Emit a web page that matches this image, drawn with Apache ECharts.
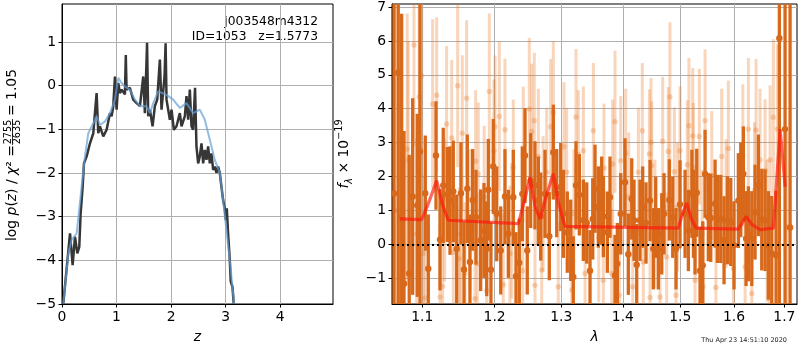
<!DOCTYPE html>
<html>
<head>
<meta charset="utf-8">
<script src="https://cdn.jsdelivr.net/npm/echarts@6/dist/echarts.min.js"></script>
<style>
html, body { margin: 0; padding: 0; background: #fff; }
#chart { width: 800px; height: 350px; }
</style>
</head>
<body>
<div id="chart"></div>
<script>
// p(z) panel
const pzZ = [0.024, 0.147, 0.177, 0.195, 0.238, 0.281, 0.317, 0.342, 0.379, 0.403, 0.452, 0.513, 0.574, 0.604, 0.635, 0.665, 0.696, 0.757, 0.818, 0.879, 0.910, 0.940, 0.971, 1.001, 1.032, 1.062, 1.093, 1.154, 1.17, 1.184, 1.245, 1.306, 1.368, 1.429, 1.490, 1.520, 1.56, 1.581, 1.612, 1.661, 1.703, 1.746, 1.795, 1.825, 1.88, 1.90, 1.917, 1.978, 2.009, 2.051, 2.100, 2.161, 2.192, 2.253, 2.283, 2.314, 2.344, 2.375, 2.405, 2.44, 2.466, 2.497, 2.527, 2.558, 2.589, 2.619, 2.650, 2.680, 2.711, 2.741, 2.772, 2.802, 2.833, 2.863, 2.894, 2.924, 2.955, 2.985, 3.004, 3.022, 3.046, 3.077, 3.095, 3.126, 3.150];
const pzLog = [-4.99, -3.38, -3.42, -4.11, -3.46, -3.84, -3.69, -2.92, -2.31, -1.78, -1.62, -1.32, -1.09, -0.63, -0.17, -1.09, -0.93, -1.16, -1.01, -0.63, -0.70, -0.47, 0.21, -0.55, 0.06, -0.17, -0.09, -0.2, 0.70, -0.09, -0.05, -0.32, -0.40, -0.47, 0.21, -0.63, 0.98, -0.70, -0.55, -0.93, -0.47, -0.32, 0.60, -0.55, 0.2, 0.97, -0.32, -0.78, -0.55, -1.01, -0.93, -0.63, -0.93, -0.70, -0.24, -0.78, -0.09, -0.93, -1.01, -0.05, -1.39, -1.78, -1.62, -1.32, -1.78, -1.47, -1.70, -1.39, -1.78, -1.55, -1.93, -1.85, -2.00, -1.85, -2.00, -2.31, -2.62, -2.81, -3.08, -2.81, -3.38, -3.99, -4.49, -4.61, -4.99];
const priorZ = [0.024, 0.116, 0.177, 0.269, 0.360, 0.421, 0.482, 0.574, 0.635, 0.696, 0.788, 0.879, 0.971, 1.032, 1.093, 1.154, 1.245, 1.337, 1.429, 1.551, 1.612, 1.673, 1.764, 1.917, 2.039, 2.161, 2.283, 2.405, 2.527, 2.619, 2.711, 2.802, 2.894, 2.955, 3.077, 3.156];
const priorLog = [-4.99, -3.84, -3.53, -3.38, -2.31, -1.62, -1.09, -0.86, -0.70, -0.90, -0.82, -0.63, -0.32, 0.18, 0.06, -0.02, -0.09, -0.32, -0.47, -0.47, -0.63, -0.40, -0.13, -0.21, -0.32, -0.51, -0.40, -0.63, -0.55, -0.78, -1.24, -1.70, -2.00, -2.62, -3.99, -4.99];

// spectrum panel, dark points
const darkLam = [1.0632, 1.0687, 1.0731, 1.0761, 1.0829, 1.0874, 1.0934, 1.0970, 1.1040, 1.1080, 1.1183, 1.1237, 1.1281, 1.1336, 1.1373, 1.1418, 1.1465, 1.1524, 1.1566, 1.1612, 1.1649, 1.1687, 1.1734, 1.1800, 1.1847, 1.1886, 1.1909, 1.1947, 1.1980, 1.2030, 1.2088, 1.2150, 1.2199, 1.2272, 1.2312, 1.2361, 1.2406, 1.2446, 1.2480, 1.2532, 1.2596, 1.2647, 1.2683, 1.2749, 1.2815, 1.2877, 1.2930, 1.2992, 1.3033, 1.3095, 1.3149, 1.3190, 1.3233, 1.3286, 1.3350, 1.3405, 1.3458, 1.3502, 1.3539, 1.3593, 1.3648, 1.3675, 1.3741, 1.3785, 1.3868, 1.3907, 1.3964, 1.4036, 1.4092, 1.4150, 1.4189, 1.4235, 1.4292, 1.4338, 1.4395, 1.4465, 1.4522, 1.4564, 1.4610, 1.4670, 1.4710, 1.4804, 1.4865, 1.4924, 1.4996, 1.5087, 1.5147, 1.5211, 1.5240, 1.5269, 1.5300, 1.5361, 1.5411, 1.5454, 1.5515, 1.5560, 1.5641, 1.5684, 1.5748, 1.5811, 1.5874, 1.5939, 1.6002, 1.6085, 1.6132, 1.6182, 1.6235, 1.6280, 1.6347, 1.6411, 1.6477, 1.6544, 1.6610, 1.6676, 1.6744, 1.6831, 1.6898, 1.7014, 1.7117];
const darkFlux = [1.5, 5.07, 0.8, -1.16, -0.86, 1.41, 1.15, 2.74, 1.51, -0.72, 2.62, 0.14, 1.74, 1.47, 1.29, 1.56, -0.13, 1.51, -0.74, 1.64, -0.52, 1.31, 0.80, 0.12, 0.41, -0.13, 1.61, -0.75, 2.30, 0.90, -0.18, 1.41, 0.31, 1.39, -0.94, -0.54, 1.49, 2.62, -0.18, 1.88, 1.74, 1.29, 0.82, 1.49, 0.24, 2.72, 1.51, 1.69, 0.90, 0.36, 0.12, -0.96, 1.74, 1.46, 0.71, 0.63, -0.78, 0.75, 1.64, 1.10, 1.29, 0.82, 0.36, 1.39, -0.92, -0.57, 0.90, 1.83, -0.29, 1.34, 0.71, -0.60, 0.71, 1.10, 0.63, 1.29, -0.13, 0.80, -0.13, 0.31, 0.90, 1.31, 0.80, -0.13, 1.18, 0.90, 0.41, 1.49, 0.90, 0.31, 1.52, -0.78, -0.62, 2.08, 0.80, 0.78, 1.20, 0.75, 0.75, 0.12, 0.71, 0.66, -0.03, 1.29, 1.61, 2.08, 0.17, 0.31, 0.17, 0.95, 1.74, 0.73, 0.71, -0.03, -0.27, -0.32, 6.08, 3.40, 0.5];
const darkErr = [8, 7, 6, 4.5, 3.5, 2.9, 2.7, 4.5, 1.7, 1.6, 1.6, 1.5, 1.7, 1.4, 1.6, 1.5, 1.6, 1.5, 1.4, 1.6, 1.4, 1.5, 1.4, 1.5, 1.4, 1.4, 1.5, 1.4, 1.4, 1.4, 1.3, 1.4, 1.3, 1.4, 1.3, 1.3, 1.4, 1.4, 1.3, 1.4, 1.3, 1.3, 1.3, 1.3, 1.3, 1.4, 1.3, 1.3, 1.3, 1.2, 1.2, 1.2, 1.3, 1.2, 1.2, 1.2, 1.2, 1.2, 1.3, 1.2, 1.3, 1.2, 1.2, 1.2, 1.2, 1.2, 1.2, 1.3, 1.2, 1.2, 1.2, 1.2, 1.2, 1.2, 1.2, 1.2, 1.2, 1.2, 1.2, 1.2, 1.2, 1.2, 1.2, 1.2, 1.3, 1.3, 1.2, 1.3, 1.3, 1.2, 1.3, 1.3, 1.3, 1.3, 1.3, 1.3, 1.3, 1.3, 1.3, 1.3, 1.3, 1.3, 1.3, 1.4, 1.4, 1.4, 1.4, 1.4, 1.4, 1.4, 1.5, 1.5, 1.5, 1.6, 1.7, 1.9, 9, 9, 10];

// spectrum panel, light points
const lightLam = [1.0650, 1.0803, 1.0816, 1.0891, 1.0926, 1.0960, 1.0992, 1.1013, 1.1036, 1.1138, 1.1192, 1.1237, 1.1273, 1.1300, 1.1327, 1.1396, 1.1418, 1.1478, 1.1501, 1.1520, 1.1542, 1.1580, 1.1603, 1.1649, 1.1720, 1.1729, 1.1752, 1.1766, 1.1850, 1.1886, 1.1923, 1.1990, 1.2005, 1.2067, 1.2125, 1.2150, 1.2223, 1.2250, 1.2272, 1.2412, 1.2420, 1.2511, 1.2547, 1.2586, 1.2596, 1.2647, 1.2698, 1.2720, 1.2775, 1.2837, 1.2877, 1.2954, 1.3043, 1.3085, 1.3165, 1.3200, 1.3233, 1.3270, 1.3350, 1.3378, 1.3512, 1.3600, 1.3675, 1.3686, 1.3814, 1.3829, 1.3868, 1.3940, 1.3964, 1.4047, 1.4100, 1.4167, 1.4263, 1.4331, 1.4348, 1.4453, 1.4465, 1.4482, 1.4494, 1.4550, 1.4640, 1.4686, 1.4758, 1.4786, 1.4815, 1.4894, 1.4924, 1.4950, 1.4996, 1.5128, 1.5157, 1.5227, 1.5238, 1.5269, 1.5348, 1.5400, 1.5418, 1.5454, 1.5579, 1.5656, 1.5767, 1.5850, 1.5893, 1.5989, 1.6172, 1.6216, 1.6280, 1.6347, 1.6400, 1.6431, 1.6510, 1.6610, 1.6650, 1.6696, 1.6710, 1.6776, 1.6857, 1.7049];
const lightFlux = [1.0, 2.81, 2.49, 5.88, 0.31, 4.35, 4.97, -0.27, -1.58, 4.14, 4.40, -1.55, -1.24, 1.0, 3.55, 3.14, -0.23, 4.68, -0.42, 0.31, 3.28, -0.86, 4.31, 0.71, -1.60, 2.45, -0.57, 2.08, 1.4, -1.37, 4.51, 2.76, 3.47, 3.77, -1.19, 3.38, -0.27, 0.4, 2.27, -0.78, 2.65, 3.99, 3.33, 3.65, -1.21, 2.59, -0.76, 1.2, 2.13, 3.47, 3.89, -1.25, 2.88, 2.13, -1.35, 0.9, 3.76, 2.65, 2.76, -0.86, 3.35, 0.2, -1.06, 2.25, -0.86, 2.37, 3.62, -1.50, 2.47, 2.69, 1.4, -1.25, 2.13, 3.35, -0.52, 2.67, -1.57, 3.01, 2.32, 0.6, -1.55, 3.04, -0.37, 2.74, 4.35, 2.14, -1.50, 1.1, 2.76, 2.35, 3.50, 3.20, 2.27, -1.06, 3.18, 0.3, -1.25, 3.65, 2.03, -1.27, 2.59, 1.2, 2.83, -0.72, 2.62, -0.67, 3.40, -1.45, 1.6, 3.37, 2.49, 2.18, 0.4, -1.58, 2.49, 3.75, 3.40, 0.51];
const lightErr = [8, 4, 3.5, 3, 2.8, 3, 3, 2.3, 2.3, 2.5, 2.3, 2.1, 2.1, 2.1, 2.3, 2.3, 2.1, 2.4, 2.1, 2.1, 2.3, 2.1, 2.3, 2.1, 2.1, 2.1, 2.1, 2.1, 2.1, 2.1, 2.3, 2.1, 2.1, 2.2, 2.1, 2.1, 2.0, 2.0, 2.0, 2.0, 2.0, 2.1, 2.0, 2.0, 2.0, 2.0, 2.0, 2.0, 1.9, 2.0, 2.1, 1.9, 1.9, 1.9, 1.9, 1.9, 2.0, 1.9, 1.9, 1.9, 2.0, 1.9, 1.9, 1.9, 1.9, 1.9, 2.1, 1.9, 1.9, 1.9, 1.9, 1.9, 1.9, 2.0, 1.9, 1.9, 1.9, 1.9, 1.9, 1.9, 1.9, 1.9, 1.9, 1.9, 2.2, 1.9, 1.9, 1.9, 1.9, 1.9, 2.0, 2.0, 1.9, 1.9, 2.0, 1.9, 1.9, 2.1, 1.9, 1.9, 2.0, 1.9, 2.0, 2.0, 2.1, 2.0, 2.1, 2.0, 2.0, 2.1, 2.1, 2.1, 2.1, 2.2, 2.2, 2.3, 2.5, 2.8];

// template model
const modelLam = [1.0709, 1.0992, 1.1080, 1.1192, 1.1280, 1.1349, 1.2346, 1.2440, 1.2521, 1.2600, 1.2673, 1.2780, 1.2877, 1.2960, 1.3059, 1.4966, 1.5040, 1.5118, 1.5200, 1.5288, 1.6085, 1.6236, 1.6347, 1.6512, 1.6711, 1.6776, 1.6830, 1.6913, 1.7015];
const modelFlux = [0.75, 0.73, 1.2, 1.88, 1.1, 0.71, 0.61, 1.3, 1.98, 1.1, 0.75, 1.5, 2.08, 1.2, 0.53, 0.48, 0.9, 1.22, 0.75, 0.48, 0.45, 0.82, 0.59, 0.43, 0.47, 0.47, 1.6, 3.4, 1.7];

const zTicks = [0, 1, 2, 3, 4];
const logpTicks = [-5, -4, -3, -2, -1, 0, 1];
const lamTicks = [1.1, 1.2, 1.3, 1.4, 1.5, 1.6, 1.7];
const fluxTicks = [-1, 0, 1, 2, 3, 4, 5, 6, 7];

const FONT = 'DejaVu Sans';
const minus = v => String(v).replace('-', '\u2212');

function makeAxis(gridIndex, min, max, ticks, fmt, extra) {
  return Object.assign({
    type: 'value',
    gridIndex: gridIndex,
    min: min,
    max: max,
    axisLine: { show: true, onZero: false, lineStyle: { color: '#000', width: 1 } },
    axisTick: { show: true, inside: false, length: 3.5, customValues: ticks, lineStyle: { color: '#000', width: 1 } },
    axisLabel: { customValues: ticks, formatter: fmt, color: '#000', fontFamily: FONT, fontSize: 13.9, margin: 6 },
    splitLine: { show: true, lineStyle: { color: '#b0b0b0', width: 1 } }
  }, extra || {});
}

function errBar(color, barW, r) {
  return function (params, api) {
    const x = api.value(0), y = api.value(1), e = api.value(2);
    const top = api.coord([x, y + e]);
    const bot = api.coord([x, y - e]);
    const c = api.coord([x, y]);
    return {
      type: 'group',
      children: [
        { type: 'line', shape: { x1: top[0], y1: top[1], x2: bot[0], y2: bot[1] }, style: { stroke: color, lineWidth: barW } },
        { type: 'circle', shape: { cx: c[0], cy: c[1], r: r }, style: { fill: color } }
      ]
    };
  };
}

const darkData = darkLam.map((l, i) => [Math.log(l), darkFlux[i], darkErr[i]]);
const lightData = lightLam.map((l, i) => [Math.log(l), lightFlux[i], lightErr[i]]);
const modelData = modelLam.map((l, i) => [Math.log(l), modelFlux[i]]);

const chart = echarts.init(document.getElementById('chart'), null, { renderer: 'canvas' });

const option = {
  animation: false,
  backgroundColor: '#fff',
  grid: [
    { left: 62, top: 4, width: 271, height: 300, show: true, borderColor: '#000', borderWidth: 1, backgroundColor: 'transparent', outerBoundsMode: 'none' },
    { left: 392, top: 4, width: 405, height: 300, show: true, borderColor: '#000', borderWidth: 1, backgroundColor: 'transparent', outerBoundsMode: 'none' }
  ],
  xAxis: [
    makeAxis(0, 0, 4.97, zTicks, v => minus(Math.round(v)), {
      name: 'z', nameLocation: 'middle', nameGap: 26,
      nameTextStyle: { fontFamily: FONT, fontSize: 13.9, fontStyle: 'italic', color: '#000' }
    }),
    makeAxis(1, Math.log(1.0607), Math.log(1.726), lamTicks.map(Math.log), v => Math.exp(v).toFixed(1), {
      name: 'λ', nameLocation: 'middle', nameGap: 26,
      nameTextStyle: { fontFamily: FONT, fontSize: 13.9, fontStyle: 'italic', color: '#000' }
    })
  ],
  yAxis: [
    makeAxis(0, -5, 1.87, logpTicks, v => minus(Math.round(v))),
    makeAxis(1, -1.76, 7.09, fluxTicks, v => minus(Math.round(v)))
  ],
  graphic: [
    {
      type: 'text', x: 12, y: 241, rotation: Math.PI / 2,
      style: {
        text: '{n|log }{i|p}{n|(}{i|z}{n|) / }{i|χ}{n|² =}',
        align: 'left', verticalAlign: 'middle', fill: '#000',
        rich: {
          n: { fontFamily: FONT, fontSize: 13.9, fill: '#000' },
          i: { fontFamily: FONT, fontSize: 13.9, fontStyle: 'italic', fill: '#000' }
        }
      }
    },
    { type: 'text', x: 8, y: 132, rotation: Math.PI / 2, style: { text: '2755', align: 'center', verticalAlign: 'middle', fontFamily: FONT, fontSize: 9.7, fill: '#000' } },
    { type: 'line', shape: { x1: 12.5, y1: 145, x2: 12.5, y2: 119 }, style: { stroke: '#000', lineWidth: 0.8 } },
    { type: 'text', x: 17.5, y: 132, rotation: Math.PI / 2, style: { text: '2635', align: 'center', verticalAlign: 'middle', fontFamily: FONT, fontSize: 9.7, fill: '#000' } },
    { type: 'text', x: 12, y: 116, rotation: Math.PI / 2, style: { text: '= 1.05', align: 'left', verticalAlign: 'middle', fontFamily: FONT, fontSize: 13.9, fill: '#000' } },
    {
      type: 'text', x: 344, y: 154, rotation: Math.PI / 2,
      style: {
        text: '{i|f}{sub|λ}{n| × 10}{sup|−19}',
        align: 'center', verticalAlign: 'middle', fill: '#000',
        rich: {
          n: { fontFamily: FONT, fontSize: 13.9, lineHeight: 20, fill: '#000' },
          i: { fontFamily: FONT, fontSize: 13.9, fontStyle: 'italic', lineHeight: 20, fill: '#000' },
          sub: { fontFamily: FONT, fontSize: 9.7, fontStyle: 'italic', verticalAlign: 'bottom', fill: '#000' },
          sup: { fontFamily: FONT, fontSize: 9.7, verticalAlign: 'top', fill: '#000' }
        }
      }
    },
    { type: 'text', x: 318, y: 22, style: { text: 'j003548m4312', align: 'right', verticalAlign: 'middle', fontFamily: FONT, fontSize: 12.3, fill: '#000' } },
    { type: 'text', x: 318, y: 37, style: { text: 'ID=1053   z=1.5773', align: 'right', verticalAlign: 'middle', fontFamily: FONT, fontSize: 12.3, fill: '#000' } },
    { type: 'text', x: 787, y: 340, style: { text: 'Thu Apr 23 14:51:10 2020', align: 'right', verticalAlign: 'middle', fontFamily: FONT, fontSize: 6.5, fill: '#222' } }
  ],
  series: [
    {
      type: 'line', xAxisIndex: 0, yAxisIndex: 0, data: pzZ.map((z, i) => [z, pzLog[i]]),
      showSymbol: false, clip: true, z: 3,
      lineStyle: { color: '#363636', width: 2.5 }
    },
    {
      type: 'line', xAxisIndex: 0, yAxisIndex: 0, data: priorZ.map((z, i) => [z, priorLog[i]]),
      showSymbol: false, clip: true, z: 4,
      lineStyle: { color: 'rgba(100,160,215,0.7)', width: 2 }
    },
    {
      type: 'custom', xAxisIndex: 1, yAxisIndex: 1, data: lightData, clip: true, z: 2,
      encode: { x: 0, y: 1 },
      renderItem: errBar('rgba(232,125,45,0.32)', 3, 2.7)
    },
    {
      type: 'custom', xAxisIndex: 1, yAxisIndex: 1, data: darkData, clip: true, z: 3,
      encode: { x: 0, y: 1 },
      renderItem: errBar('#d8681a', 3.3, 3.2)
    },
    {
      type: 'line', xAxisIndex: 1, yAxisIndex: 1, data: modelData,
      showSymbol: false, clip: true, z: 5,
      lineStyle: { color: 'rgba(255,20,10,0.65)', width: 3.2 },
      markLine: {
        silent: true, symbol: 'none', label: { show: false },
        lineStyle: { color: '#000', width: 2, type: [2, 3] },
        data: [{ yAxis: 0 }]
      }
    }
  ]
};

chart.setOption(option);
</script>
</body>
</html>
